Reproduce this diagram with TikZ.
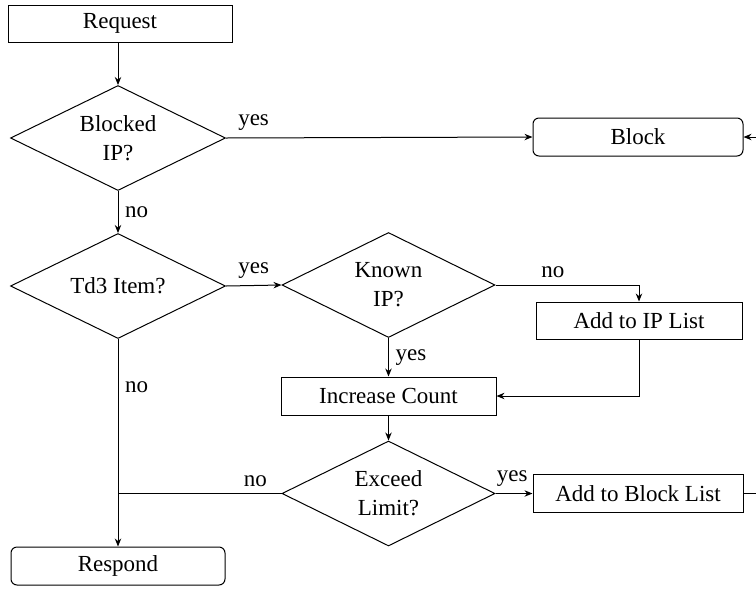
\documentclass[tikz,border=0pt]{standalone}
\usepackage{fontspec}
\setmainfont{Liberation Serif}
\usetikzlibrary{arrows.meta, positioning, shapes.geometric}

\tikzset{
  stepbox/.style={draw, rectangle, minimum width=107pt, minimum height=18.5pt, inner sep=1pt},
  endbox/.style={stepbox, rounded corners=3pt},
  decide/.style={draw, diamond, aspect=2, minimum width=107.5pt, minimum height=52.5pt, inner sep=0pt, align=center},
}

\begin{document}
\begin{tikzpicture}[>={Stealth[length=4pt,width=3.2pt]}, line width=0.5pt, font=\fontsize{11.5}{14.5}\selectfont]
		\useasboundingbox (0,0) rectangle (378pt,-295pt);
		\node[stepbox, minimum width=112pt] (request) at (60pt,-11.75pt) {Request};
		\node[decide] (blocked) at (59pt,-69pt) {Blocked\\IP?};
		\node[endbox, minimum width=105pt, minimum height=19pt] (block) at (319pt,-68.5pt) {Block};
		\node[decide] (td3) at (59pt,-143pt) {Td3 Item?};
		\node[decide, minimum width=106.5pt] (known) at (194.25pt,-142.5pt) {Known\\IP?};
		\node[stepbox, minimum width=103pt] (addip) at (319.5pt,-160.25pt) {Add to IP List};
		\node[stepbox, minimum width=107.5pt, minimum height=19pt] (incr) at (194.25pt,-198pt) {Increase Count};
		\node[decide, minimum width=106.5pt] (exceed) at (194.25pt,-246.75pt) {Exceed\\Limit?};
		\node[endbox, minimum height=19pt] (respond) at (59pt,-283pt) {Respond};
		\node[stepbox, minimum width=105pt, minimum height=19pt] (addbl) at (319pt,-246.75pt) {Add to Block List};
		\coordinate (turn) at (379pt,-246.75pt);
		
		\draw[->] (request.south -| blocked.north) -- (blocked.north);
		\draw[->] (blocked.east) -- node[pos=0.09, above] {yes} (block.west);
		\draw[->] (blocked) -- node[right] {no} (td3);
		\draw[->] (td3.east) -- node[above] {yes} (known.west);
		\draw[->] (known.east) -| node[pos=0.2, above] {no} (addip.north);
		\draw[->] (known) -- node[right] {yes} (incr);
		\draw[->] (addip.south) |- (incr.east);
		\draw[->] (incr) -- (exceed);
		\draw (exceed.west) -- node[pos=0.16, above] {no} (td3 |- exceed);
		\draw[->] (td3.south) -- node[pos=0.23, right] {no} (respond.north);
		\draw[->] (exceed.east) -- node[pos=0.45, above] {yes} (addbl.west);
		\draw[->] (addbl.east) -- (turn) |- (block.east);
	\end{tikzpicture}
\end{document}
